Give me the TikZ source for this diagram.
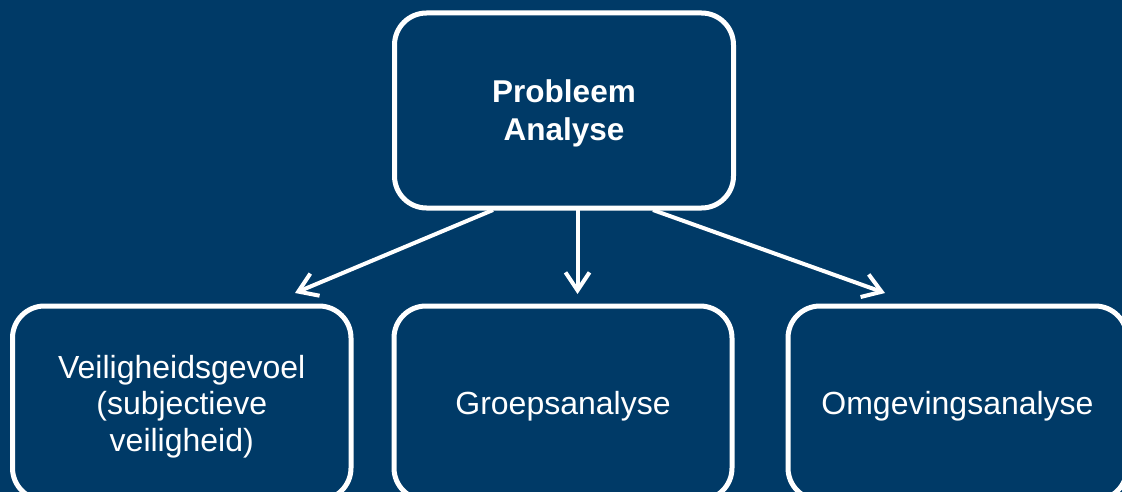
\documentclass[tikz,border=0pt]{standalone}
\usepackage{fontspec}
\setmainfont{Liberation Sans}
\usetikzlibrary{arrows.meta}
\definecolor{navy}{RGB}{0,58,103}
\begin{document}
\begin{tikzpicture}[x=1pt,y=-1pt,
  box/.style={draw=white, line width=5pt, rounded corners=32pt, fill=navy,
    text=white, align=center, font=\fontsize{32}{36.5}\selectfont, inner sep=0pt, text depth=0pt},
  conn/.style={draw=white, line width=4pt, -{Straight Barb[length=18pt,width=24pt,line width=4pt]}}]
\useasboundingbox (0,0) rectangle (1122,492);
\clip (0,0) rectangle (1122,492);
\fill[navy] (0,0) rectangle (1122,492);
\node[box, minimum width=339pt, minimum height=195pt, font=\bfseries\fontsize{31.5}{38}\selectfont] (top) at (564,110.5) {Probleem\\Analyse};
\node[box, minimum width=338.5pt, minimum height=194pt] (left) at (181.75,403) {Veiligheidsgevoel\\(subjectieve\\veiligheid)};
\node[box, minimum width=338pt, minimum height=194pt] (mid) at (563,403) {Groepsanalyse};
\node[box, minimum width=339pt, minimum height=194pt] (right) at (957.5,403) {Omgevingsanalyse};
\coordinate (s1) at (493,210);
\coordinate (s2) at (577.5,210);
\coordinate (s3) at (653,210);
\coordinate (e1) at (295,293);
\coordinate (e2) at (577.5,294);
\coordinate (e3) at (885,293);
\draw[conn] (s1) -- (e1);
\draw[conn] (s2) -- (e2);
\draw[conn] (s3) -- (e3);
\end{tikzpicture}
\end{document}
